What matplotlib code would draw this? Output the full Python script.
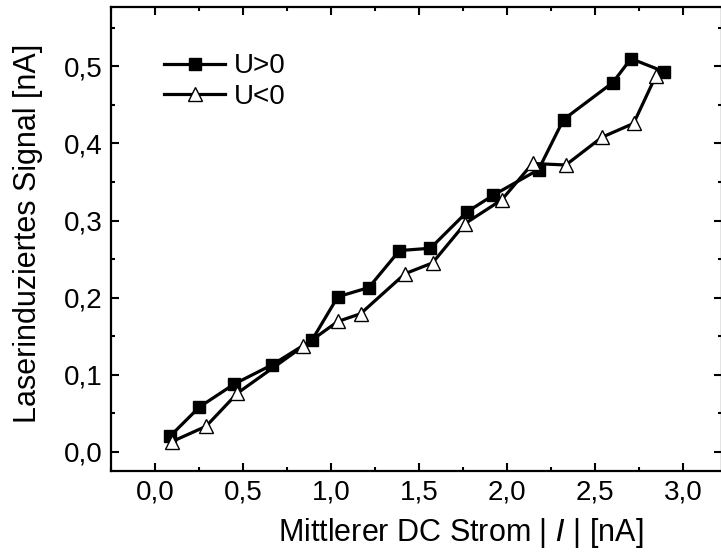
import matplotlib
matplotlib.use("Agg")
import matplotlib.pyplot as plt
from matplotlib.ticker import MultipleLocator, FuncFormatter

# U > 0 (filled squares)
I_pos = [0.085, 0.252, 0.451, 0.667, 0.892, 1.038, 1.214, 1.388, 1.564,
         1.771, 1.922, 2.178, 2.320, 2.600, 2.703, 2.892]
S_pos = [0.020, 0.058, 0.088, 0.113, 0.145, 0.201, 0.213, 0.261, 0.264,
         0.311, 0.333, 0.366, 0.431, 0.479, 0.510, 0.493]

# U < 0 (open triangles)
I_neg = [0.095, 0.290, 0.468, 0.843, 1.038, 1.167, 1.420, 1.576, 1.761,
         1.970, 2.144, 2.333, 2.538, 2.718, 2.843]
S_neg = [0.013, 0.033, 0.076, 0.137, 0.169, 0.179, 0.231, 0.245, 0.296,
         0.327, 0.374, 0.372, 0.408, 0.426, 0.487]

plt.rcParams["font.family"] = ["Liberation Sans", "DejaVu Sans"]

fig = plt.figure(figsize=(7.21, 5.55), dpi=100)
ax = fig.add_axes([111 / 721, 84 / 555, 611 / 721, 464 / 555])

ax.plot(I_pos, S_pos, color="black", lw=2.3, marker="s", ms=8.5,
        mfc="black", mec="black", label="U>0")
ax.plot(I_neg, S_neg, color="black", lw=2.3, marker="^", ms=9.5,
        mfc="white", mec="black", mew=1.0, label="U<0")

ax.set_xlim(-0.25, 3.22)
ax.set_ylim(-0.025, 0.577)

ax.xaxis.set_major_locator(MultipleLocator(0.5))
ax.xaxis.set_minor_locator(MultipleLocator(0.25))
ax.yaxis.set_major_locator(MultipleLocator(0.1))
ax.yaxis.set_minor_locator(MultipleLocator(0.05))

comma = FuncFormatter(lambda v, p: ("%.1f" % v).replace(".", ","))
ax.xaxis.set_major_formatter(comma)
ax.yaxis.set_major_formatter(comma)

ax.tick_params(which="both", direction="in", top=True, right=True,
               width=1.5, labelsize=20, colors="black")
ax.tick_params(which="major", length=6, pad=6)
ax.tick_params(which="minor", length=3)
for sp in ax.spines.values():
    sp.set_linewidth(1.6)

ax.set_xlabel("Mittlerer DC Strom | $I$ | [nA]", fontsize=22)
ax.xaxis.set_label_coords(0.573, -0.097, transform=ax.transAxes)
ax.xaxis.label.set_va("top")
ax.set_ylabel("Laserinduziertes Signal [nA]", fontsize=22)
ax.yaxis.set_label_coords(-0.136, 0.513, transform=ax.transAxes)
ax.yaxis.label.set_va("center")

ax.legend(loc="upper left", bbox_to_anchor=(0.087, 0.90), frameon=False,
          fontsize=20, handlelength=2.2, handletextpad=0.3,
          labelspacing=0.15, borderaxespad=0, borderpad=0)

fig.savefig("out.png", dpi=100)
